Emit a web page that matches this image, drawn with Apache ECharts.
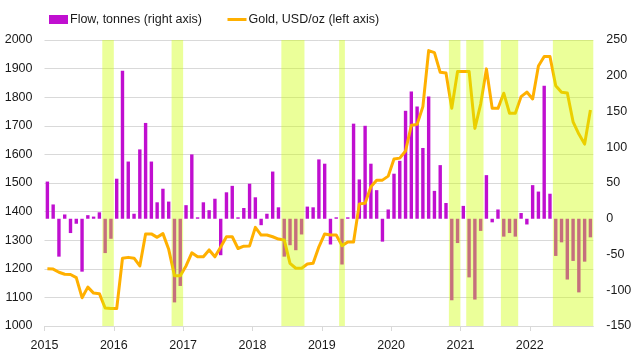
<!DOCTYPE html>
<html>
<head>
<meta charset="utf-8">
<script src="https://cdn.jsdelivr.net/npm/echarts@6/dist/echarts.min.js"></script>
<style>
  html, body { margin: 0; padding: 0; background: #ffffff; }
  #chart { width: 635px; height: 357px; }
</style>
</head>
<body>
<div id="chart"></div>
<script>
// ---- Data ----
const years = ['2015', '2016', '2017', '2018', '2019', '2020', '2021', '2022'];
const monthNames = ['01','02','03','04','05','06','07','08','09','10','11','12'];
// Monthly categories Jan 2015 .. Nov 2022
const months = [];
years.forEach(y => monthNames.forEach(m => months.push(y + '-' + m)));
months.length = 95;

// ETF flow, tonnes (right axis)
const flowTonnes = [
  52, 20, -53, 6, -20, -7, -74, 5, 3, 9, -48, -28,
  56, 207, 80, 7, 97, 134, 80, 23, 42, 24, -117, -94,
  19, 90, 2, 23, 12, 28, -51, 37, 46, 2, 15, 49,
  30, -9, 7, 66, 16, -53, -37, -44, -22, 17, 16, 83,
  77, -36, 2, -64, 2, 133, 55, 130, 77, 40, -32, 13,
  63, 81, 151, 178, 157, 99, 171, 39, 75, 22, -114, -34,
  18, -82, -113, -17, 61, -5, 13, -25, -20, -25, 8, -8,
  47, 38, 186, 35, -52, -33, -85, -59, -103, -60, -26
];

// Gold price, USD/oz (left axis)
const goldUsd = [
  1200, 1199, 1188, 1181, 1180, 1169, 1099, 1136, 1115, 1113, 1063, 1061,
  1061, 1237, 1240, 1237, 1210, 1322, 1322, 1310, 1323, 1268, 1176, 1176,
  1210, 1256, 1242, 1242, 1266, 1242, 1276, 1312, 1312, 1271, 1279, 1280,
  1345, 1318, 1318, 1312, 1304, 1301, 1219, 1202, 1202, 1217, 1219, 1277,
  1322, 1318, 1318, 1281, 1294, 1294, 1427, 1429, 1487, 1510, 1510, 1524,
  1584, 1587, 1612, 1702, 1705, 1767, 1963, 1956, 1887, 1885, 1761, 1890,
  1890, 1890, 1691, 1776, 1899, 1761, 1761, 1814, 1744, 1744, 1802, 1818,
  1794, 1909, 1942, 1942, 1840, 1817, 1815, 1714, 1671, 1636, 1755
];

// Shaded periods (first month, last month)
const shadedPeriods = [
  ['2015-11', '2015-12'],
  ['2016-11', '2016-12'],
  ['2018-06', '2018-09'],
  ['2019-04', '2019-04'],
  ['2020-11', '2020-12'],
  ['2021-02', '2021-04'],
  ['2021-08', '2021-10'],
  ['2022-05', '2022-11']
];

const leftTicks = { min: 1000, max: 2000, interval: 100 };
const rightTicks = { min: -150, max: 250, interval: 50 };

// ---- Chart ----
const FONT = 'Liberation Sans';
const TXT = '#1a1a1a';
const chart = echarts.init(document.getElementById('chart'), null, { renderer: 'canvas' });

const areaData = shadedPeriods.map(p => [
  { xAxis: months.indexOf(p[0]) },
  { xAxis: months.indexOf(p[1]) + 1 }
]);

chart.setOption({
  animation: false,
  backgroundColor: '#ffffff',
  textStyle: { fontFamily: FONT },
  grid: { left: 44.5, right: 41.7, top: 40, bottom: 31, containLabel: false },
  legend: {
    data: [
      { name: 'Flow, tonnes (right axis)', icon: 'rect' },
      { name: 'Gold, USD/oz (left axis)', itemStyle: { opacity: 0 }, lineStyle: { width: 3, color: '#ffb000' } }
    ],
    left: 44,
    top: 8,
    itemWidth: 19,
    itemHeight: 9,
    itemGap: 24,
    textStyle: { fontFamily: FONT, fontSize: 12.5, color: TXT, padding: [0, 0, 0, -3] }
  },
  xAxis: [
    {
      type: 'category',
      data: months,
      boundaryGap: true,
      position: 'bottom',
      show: false
    },
    {
      type: 'value',
      min: 0,
      max: months.length,
      interval: 12,
      position: 'bottom',
      axisLine: { show: true, lineStyle: { color: '#d9d9d9', width: 1 } },
      axisTick: { show: true, length: 5, lineStyle: { color: '#d9d9d9' } },
      splitLine: { show: false },
      axisLabel: {
        margin: 13,
        color: TXT,
        fontFamily: FONT,
        fontSize: 12.5,
        showMaxLabel: false,
        formatter: v => (v % 12 === 0 && years[v / 12]) ? years[v / 12] : ''
      }
    }
  ],
  yAxis: [
    {
      type: 'value',
      position: 'left',
      min: leftTicks.min, max: leftTicks.max, interval: leftTicks.interval,
      axisLine: { show: false },
      axisTick: { show: false },
      splitLine: { show: true, lineStyle: { color: '#d9d9d9', width: 1 } },
      axisLabel: { margin: 12, color: TXT, fontFamily: FONT, fontSize: 12.5, formatter: v => String(v) }
    },
    {
      type: 'value',
      position: 'right',
      min: rightTicks.min, max: rightTicks.max, interval: rightTicks.interval,
      axisLine: { show: false },
      axisTick: { show: false },
      splitLine: { show: false },
      axisLabel: { margin: 13, color: TXT, fontFamily: FONT, fontSize: 12.5, formatter: v => String(v) }
    }
  ],
  series: [
    {
      name: 'Flow, tonnes (right axis)',
      type: 'bar',
      xAxisIndex: 0,
      yAxisIndex: 1,
      data: flowTonnes,
      barWidth: 3.4,
      itemStyle: { color: '#c00fd0' },
      z: 2
    },
    {
      name: 'Gold, USD/oz (left axis)',
      type: 'line',
      xAxisIndex: 0,
      yAxisIndex: 0,
      data: goldUsd,
      symbol: 'none',
      showSymbol: false,
      lineStyle: { color: '#ffb000', width: 3, join: 'round' },
      itemStyle: { color: '#ffb000' },
      z: 3
    },
    {
      name: 'shade',
      type: 'line',
      xAxisIndex: 1,
      yAxisIndex: 0,
      data: [],
      silent: true,
      z: 10,
      markArea: {
        silent: true,
        z: 10,
        itemStyle: { color: 'rgba(204,255,0,0.40)' },
        data: areaData
      }
    }
  ]
});
</script>
</body>
</html>
